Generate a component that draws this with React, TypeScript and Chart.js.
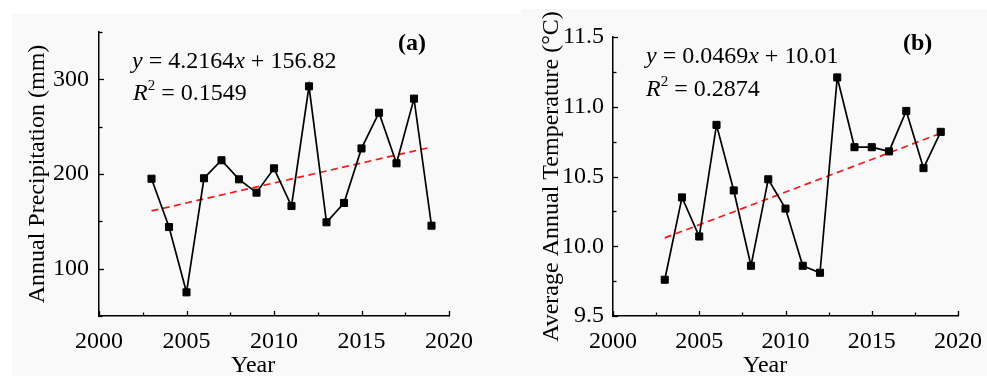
import React, { useEffect, useRef } from 'react';
import { Chart, registerables } from 'chart.js';
Chart.register(...registerables);

// ---- data ----
const years = [2003, 2004, 2005, 2006, 2007, 2008, 2009, 2010, 2011, 2012, 2013, 2014, 2015, 2016, 2017, 2018, 2019];
const precipitation = [195, 144, 75, 195.5, 214.5, 194.4, 180.3, 206, 166.2, 292.6, 149, 169.4, 227, 264.7, 211.3, 279.6, 145.4];
const temperature = [9.76, 10.35, 10.07, 10.87, 10.4, 9.86, 10.48, 10.27, 9.86, 9.81, 11.21, 10.71, 10.71, 10.68, 10.97, 10.56, 10.82];
const trendYears = [2003, 2019];
const precipTrend = [161.0, 228.5];
const tempTrend = [10.06, 10.81];
const precipYTicks = [100, 200, 300];
const tempYTicks = [9.5, 10.0, 10.5, 11.0, 11.5];
const xTickLabels = [2000, 2005, 2010, 2015, 2020];

const FONT = '"Liberation Serif", "Times New Roman", serif';

type Seg = { t: string; italic?: boolean; sup?: boolean; bold?: boolean };

function drawRich(ctx: CanvasRenderingContext2D, x: number, y: number, segs: Seg[], size: number) {
  let cx = x;
  ctx.textBaseline = 'alphabetic';
  ctx.textAlign = 'left';
  ctx.fillStyle = '#000';
  for (const s of segs) {
    const fs = s.sup ? Math.round(size * 0.62) : size;
    ctx.font = `${s.italic ? 'italic ' : ''}${s.bold ? 'bold ' : ''}${fs}px ${FONT}`;
    ctx.fillText(s.t, cx, s.sup ? y - size * 0.4 : y);
    cx += ctx.measureText(s.t).width;
  }
}

interface PanelCfg {
  left: number;
  top: number;
  width: number;
  height: number;
  values: number[];
  trend: number[];
  yMin: number;
  yMax: number;
  yStep: number;
  yLabels: number[];
  yDecimals: number;
  yTitle: string;
  yScaleWidth: number;
  yTitlePad: number;
  yLabelPad: number;
  padTop: number;
  padRight: number;
  eq: Seg[];
  r2: Seg[];
  eqX: number;
  eqY: number;
  r2X: number;
  r2Y: number;
  tag: string;
  tagX: number;
  tagY: number;
  yearX: number;
  yearY: number;
}

function Panel({ cfg }: { cfg: PanelCfg }) {
  const ref = useRef<HTMLCanvasElement | null>(null);
  useEffect(() => {
    const canvas = ref.current!;
    const overlay = {
      id: 'overlay',
      afterDraw(chart: any) {
        const ctx: CanvasRenderingContext2D = chart.ctx;
        const xs = chart.scales.x;
        const ys = chart.scales.y;
        const area = chart.chartArea;
        ctx.save();
        ctx.strokeStyle = '#000';
        ctx.lineWidth = 1.3;
        for (let v = xs.min; v <= xs.max + 1e-9; v += 2.5) {
          const major = Math.abs(v % 5) < 1e-6;
          const px = Math.round(xs.getPixelForValue(v)) + 0.5;
          const len = major ? 5 : 3.5;
          ctx.beginPath();
          ctx.moveTo(px, area.bottom);
          ctx.lineTo(px, area.bottom - len);
          ctx.stroke();
        }
        for (let v = ys.min; v <= ys.max + 1e-9; v += cfg.yStep) {
          const major = cfg.yLabels.some((l) => Math.abs(l - v) < 1e-6);
          const py = Math.round(ys.getPixelForValue(v)) + 0.5;
          const len = major ? 5 : 3.5;
          ctx.beginPath();
          ctx.moveTo(area.left, py);
          ctx.lineTo(area.left + len, py);
          ctx.stroke();
        }
        drawRich(ctx, cfg.eqX, cfg.eqY, cfg.eq, 24);
        drawRich(ctx, cfg.r2X, cfg.r2Y, cfg.r2, 24);
        drawRich(ctx, cfg.tagX, cfg.tagY, [{ t: cfg.tag, bold: true }], 24);
        drawRich(ctx, cfg.yearX, cfg.yearY, [{ t: 'Year' }], 24);
        ctx.restore();
      },
    };
    const chart = new Chart(canvas, {
      type: 'line',
      data: {
        datasets: [
          {
            data: years.map((yr, i) => ({ x: yr, y: cfg.values[i] })),
            borderColor: '#000',
            borderWidth: 1.7,
            backgroundColor: '#000',
            pointStyle: 'rect',
            pointRadius: 5,
            pointBorderWidth: 1,
            pointBorderColor: '#000',
            pointBackgroundColor: '#000',
            tension: 0,
            order: 1,
          },
          {
            data: trendYears.map((yr, i) => ({ x: yr, y: cfg.trend[i] })),
            borderColor: 'rgb(245,25,25)',
            borderWidth: 1.7,
            borderDash: [7, 4.5],
            pointRadius: 0,
            order: 2,
          },
        ],
      },
      options: {
        animation: false,
        responsive: false,
        events: [],
        layout: { padding: { top: cfg.padTop, right: cfg.padRight, left: 0, bottom: 0 } },
        plugins: { legend: { display: false }, tooltip: { enabled: false } },
        scales: {
          x: {
            type: 'linear',
            min: 2000,
            max: 2020,
            afterBuildTicks: (s: any) => {
              s.ticks = xTickLabels.map((v) => ({ value: v }));
            },
            afterFit: (s: any) => {
              s.height = 60;
              s.paddingLeft = 0;
              s.paddingRight = 0;
            },
            ticks: {
              color: '#000',
              font: { family: FONT, size: 24 },
              padding: 11,
              maxRotation: 0,
              autoSkip: false,
              callback: (v: any) => String(v),
            },
            grid: { display: false, drawTicks: false },
            border: { display: true, color: '#000', width: 1.5 },
          },
          y: {
            type: 'linear',
            min: cfg.yMin,
            max: cfg.yMax,
            afterBuildTicks: (s: any) => {
              s.ticks = cfg.yLabels.map((v) => ({ value: v }));
            },
            afterFit: (s: any) => {
              s.width = cfg.yScaleWidth;
              s.paddingTop = 0;
              s.paddingBottom = 0;
            },
            ticks: {
              color: '#000',
              font: { family: FONT, size: 24 },
              padding: cfg.yLabelPad,
              autoSkip: false,
              callback: (v: any) => Number(v).toFixed(cfg.yDecimals),
            },
            grid: { display: false, drawTicks: false },
            border: { display: true, color: '#000', width: 1.5 },
            title: {
              display: true,
              text: cfg.yTitle,
              color: '#000',
              font: { family: FONT, size: 24 },
              padding: { top: cfg.yTitlePad, bottom: 0 },
            },
          },
        },
      },
      plugins: [overlay],
    } as any);
    return () => chart.destroy();
  }, [cfg]);
  return (
    <canvas
      ref={ref}
      width={cfg.width}
      height={cfg.height}
      style={{
        position: 'absolute',
        left: cfg.left,
        top: cfg.top,
        width: cfg.width,
        height: cfg.height,
        background: '#f9f9f9',
      }}
    />
  );
}

const panelA: PanelCfg = {
  left: 12,
  top: 14,
  width: 509,
  height: 362,
  values: precipitation,
  trend: precipTrend,
  yMin: 50,
  yMax: 350,
  yStep: 50,
  yLabels: precipYTicks,
  yDecimals: 0,
  yTitle: 'Annual Precipitation (mm)',
  yScaleWidth: 87,
  yTitlePad: 11,
  yLabelPad: 10,
  padTop: 18,
  padRight: 72,
  eq: [{ t: 'y', italic: true }, { t: ' = 4.2164' }, { t: 'x', italic: true }, { t: ' + 156.82' }],
  r2: [{ t: 'R', italic: true }, { t: '2', sup: true }, { t: ' = 0.1549' }],
  eqX: 120,
  eqY: 54,
  r2X: 121,
  r2Y: 86,
  tag: '(a)',
  tagX: 386,
  tagY: 36,
  yearX: 219,
  yearY: 358,
};

const panelB: PanelCfg = {
  left: 521,
  top: 9,
  width: 466,
  height: 367,
  values: temperature,
  trend: tempTrend,
  yMin: 9.5,
  yMax: 11.5,
  yStep: 0.25,
  yLabels: tempYTicks,
  yDecimals: 1,
  yTitle: 'Average Annual Temperature (\u00B0C)',
  yScaleWidth: 92,
  yTitlePad: 16,
  yLabelPad: 9,
  padTop: 28,
  padRight: 29,
  eq: [{ t: 'y', italic: true }, { t: ' = 0.0469' }, { t: 'x', italic: true }, { t: ' + 10.01' }],
  r2: [{ t: 'R', italic: true }, { t: '2', sup: true }, { t: ' = 0.2874' }],
  eqX: 125,
  eqY: 54,
  r2X: 125,
  r2Y: 87,
  tag: '(b)',
  tagX: 382,
  tagY: 41,
  yearX: 222,
  yearY: 363,
};

export default function App() {
  return (
    <div style={{ position: 'fixed', left: 0, top: 0, width: 987, height: 376, background: '#fff', overflow: 'hidden' }}>
      <Panel cfg={panelA} />
      <Panel cfg={panelB} />
    </div>
  );
}
